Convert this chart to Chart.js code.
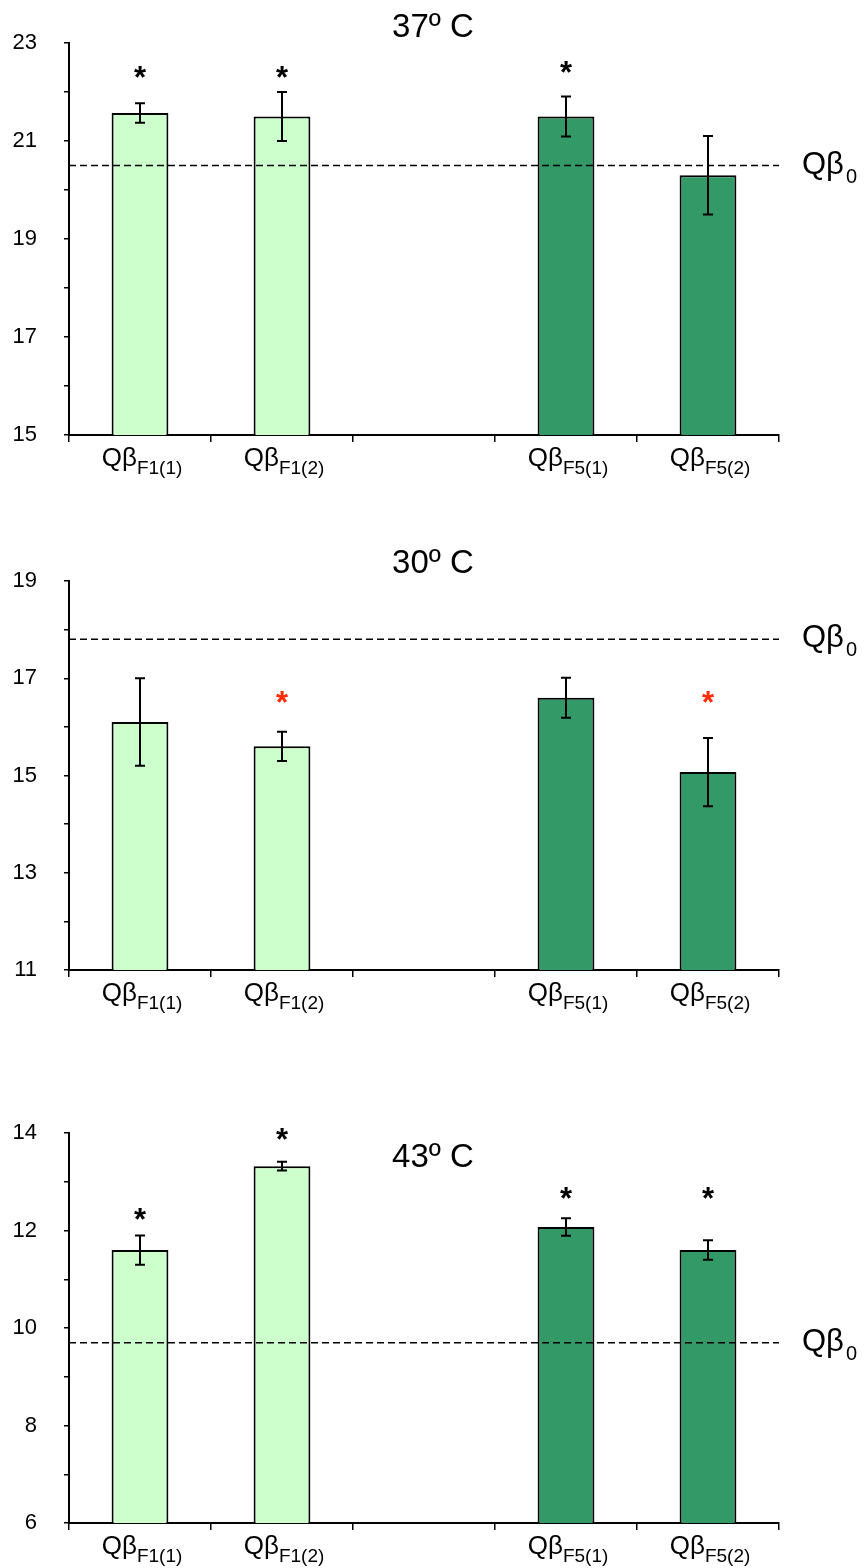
<!DOCTYPE html>
<html>
<head>
<meta charset="utf-8">
<script src="https://cdn.jsdelivr.net/npm/chart.js@4"></script>
<style>
body { margin: 0; background: #fff; width: 867px; height: 1568px; position: relative; overflow: hidden; }
.panel { position: absolute; left: 0; width: 867px; }
</style>
</head>
<body>
<div class="panel" style="top:0;height:520px"><canvas id="c37"></canvas></div>
<div class="panel" style="top:520px;height:540px"><canvas id="c30"></canvas></div>
<div class="panel" style="top:1060px;height:508px"><canvas id="c43"></canvas></div>
<script>
// categories (third slot is an empty gap)
var labelMain = ['Qβ', 'Qβ', '', 'Qβ', 'Qβ'];
var labelSub = ['F1(1)', 'F1(2)', '', 'F5(1)', 'F5(2)'];

// 37 C
var title37 = '37º C';
var values37 = [21.57, 21.5, null, 21.5, 20.3];
var err37 = [0.2, 0.5, null, 0.41, 0.8];
var stars37 = [22.41, 22.41, null, 22.51, null];
var base37 = 20.5;
var yTicks37 = [15, 23];

// 30 C
var title30 = '30º C';
var values30 = [16.1, 15.6, null, 16.6, 15.07];
var err30 = [0.9, 0.3, null, 0.41, 0.7];
var stars30 = [null, 16.61, null, null, 16.61];
var base30 = 17.8;
var yTicks30 = [11, 19];

// 43 C
var title43 = '43º C';
var values43 = [11.6, 13.32, null, 12.07, 11.6];
var err43 = [0.3, 0.09, null, 0.18, 0.2];
var stars43 = [12.34, 13.98, null, 12.76, 12.76];
var base43 = 9.7;
var yTicks43 = [6, 14];

var light = '#CCFFCC';
var dark = '#339966';
var font = '"Liberation Sans", Arial, sans-serif';

var extras = {
    id: 'extras',
    afterDatasetsDraw: function (chart, args, opts) {
        var ctx = chart.ctx;
        var xs = chart.scales.x;
        var ys = chart.scales.y;
        var area = chart.chartArea;
        ctx.save();

        // baseline (dashed)
        var by = ys.getPixelForValue(opts.base);
        ctx.strokeStyle = '#000';
        ctx.lineWidth = 1.5;
        ctx.setLineDash([7, 4]);
        ctx.beginPath();
        ctx.moveTo(area.left, by);
        ctx.lineTo(area.right, by);
        ctx.stroke();
        ctx.setLineDash([]);

        // error bars
        ctx.lineWidth = 2;
        opts.err.forEach(function (e, i) {
            var v = opts.values[i];
            if (v === null || e === null) return;
            var x = xs.getPixelForValue(i);
            var y1 = ys.getPixelForValue(v + e);
            var y2 = ys.getPixelForValue(v - e);
            ctx.beginPath();
            ctx.moveTo(x, y1); ctx.lineTo(x, y2);
            ctx.moveTo(x - 5, y1); ctx.lineTo(x + 5, y1);
            ctx.moveTo(x - 5, y2); ctx.lineTo(x + 5, y2);
            ctx.stroke();
        });

        // significance stars
        ctx.font = 'bold 31px ' + font;
        ctx.textAlign = 'center';
        ctx.textBaseline = 'alphabetic';
        ctx.fillStyle = opts.starColor;
        var m = ctx.measureText('*');
        opts.stars.forEach(function (s, i) {
            if (s === null) return;
            var cy = ys.getPixelForValue(s);
            ctx.fillText('*', xs.getPixelForValue(i), cy + (m.actualBoundingBoxAscent - m.actualBoundingBoxDescent) / 2);
        });

        // Qβ0 label
        ctx.fillStyle = '#000';
        ctx.textAlign = 'left';
        ctx.font = '31px ' + font;
        ctx.fillText('Qβ', 802, by + 8);
        var w = ctx.measureText('Qβ').width;
        ctx.font = '20px ' + font;
        ctx.fillText('0', 802 + w + 2, by + 17);

        // x labels with subscripts
        var ly = area.bottom + 31;
        labelMain.forEach(function (t, i) {
            if (!t) return;
            ctx.font = '26px ' + font;
            var w1 = ctx.measureText(t).width;
            ctx.font = '19px ' + font;
            var w2 = ctx.measureText(labelSub[i]).width;
            var x0 = xs.getPixelForValue(i) - (w1 + w2) / 2 + 2;
            ctx.font = '26px ' + font;
            ctx.fillText(t, x0, ly);
            ctx.font = '19px ' + font;
            ctx.fillText(labelSub[i], x0 + w1, ly + 8);
        });

        // panel title
        ctx.font = '33px ' + font;
        ctx.textAlign = 'center';
        ctx.fillText(opts.title, 433, opts.titleY);
        ctx.restore();
    }
};

function makeChart(id, cfg) {
    var ctx = document.getElementById(id).getContext('2d');
    return new Chart(ctx, {
        type: 'bar',
        data: {
            labels: labelMain.map(function (t, i) { return t + labelSub[i]; }),
            datasets: [{
                data: cfg.values,
                backgroundColor: [light, light, light, dark, dark],
                borderColor: '#000',
                borderWidth: 2,
                borderSkipped: 'bottom',
                categoryPercentage: 1,
                barPercentage: 0.4
            }]
        },
        options: {
            responsive: true,
            maintainAspectRatio: false,
            animation: false,
            layout: { padding: { top: cfg.top, right: 88, left: 0, bottom: 0 } },
            plugins: {
                legend: { display: false },
                tooltip: { enabled: false },
                extras: {
                    values: cfg.values, err: cfg.err, stars: cfg.stars,
                    starColor: cfg.starColor, base: cfg.base,
                    title: cfg.title, titleY: cfg.titleY
                }
            },
            scales: {
                x: {
                    afterFit: function (s) { s.height = cfg.xh; },
                    grid: { offset: true, drawOnChartArea: false, color: '#000', lineWidth: 1.5, tickLength: 7 },
                    border: { color: '#000', width: 2 },
                    ticks: { callback: function () { return ''; } }
                },
                y: {
                    min: cfg.range[0],
                    max: cfg.range[1],
                    afterFit: function (s) { s.width = 69; },
                    grid: { drawOnChartArea: false, color: '#000', lineWidth: 1.5, tickLength: 5 },
                    border: { color: '#000', width: 2 },
                    ticks: {
                        stepSize: 1,
                        padding: 27,
                        color: '#000',
                        font: { family: font, size: 22 },
                        callback: function (v) {
                            return Math.round(v - cfg.range[0]) % 2 === 0 ? v : '';
                        }
                    }
                }
            }
        },
        plugins: [extras]
    });
}

makeChart('c37', { values: values37, err: err37, stars: stars37, starColor: '#000', base: base37,
    title: title37, titleY: 37, range: yTicks37, top: 43, xh: 85 });
makeChart('c30', { values: values30, err: err30, stars: stars30, starColor: '#FF2A00', base: base30,
    title: title30, titleY: 53, range: yTicks30, top: 61, xh: 90 });
makeChart('c43', { values: values43, err: err43, stars: stars43, starColor: '#000', base: base43,
    title: title43, titleY: 107, range: yTicks43, top: 73, xh: 45 });
</script>
</body>
</html>
